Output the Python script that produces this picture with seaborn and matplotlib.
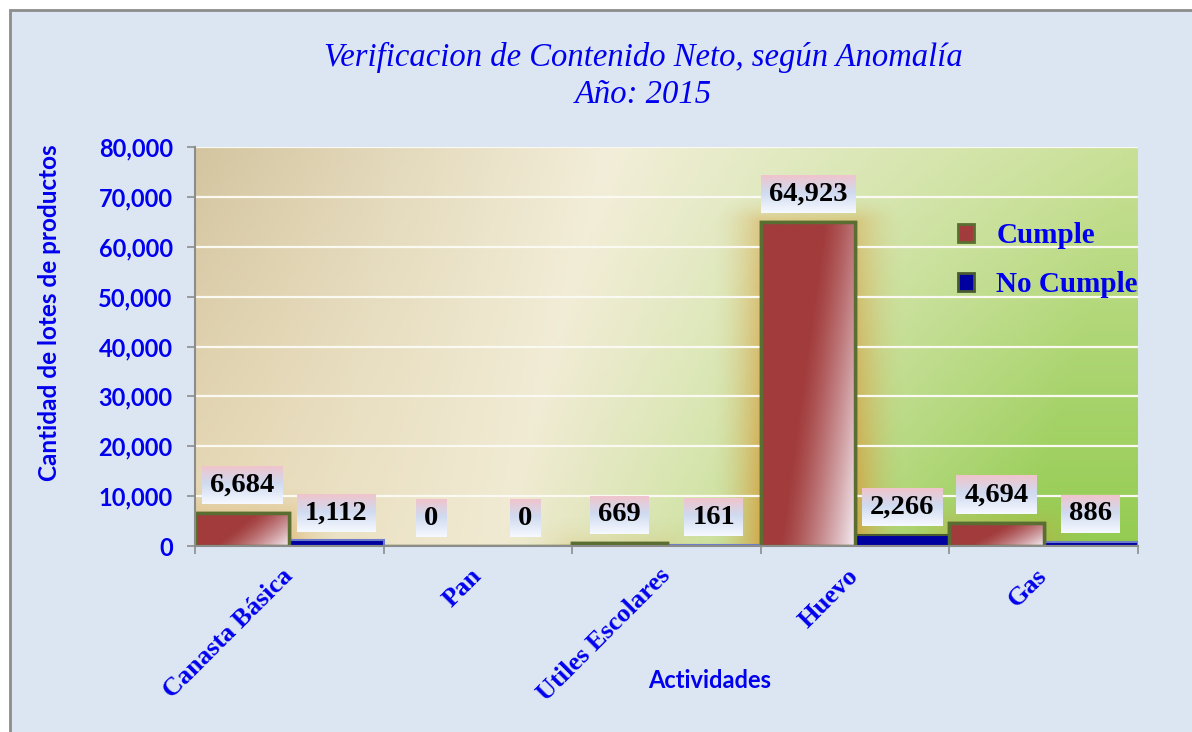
import numpy as np
import pandas as pd
import matplotlib
matplotlib.use("Agg")
import matplotlib.pyplot as plt
import seaborn as sns
from matplotlib.patches import Rectangle
from matplotlib.colors import to_rgb
from matplotlib.ticker import FuncFormatter, MultipleLocator, FixedLocator

actividades = ["Canasta Básica", "Pan", "Utiles Escolares", "Huevo", "Gas"]
cumple = [6684, 0, 669, 64923, 4694]
no_cumple = [1112, 0, 161, 2266, 886]
series = ["Cumple", "No Cumple"]

titulo = "Verificacion de Contenido Neto, según Anomalía"
subtitulo = "Año: 2015"

df = pd.DataFrame({
    "Actividades": actividades * 2,
    "Valor": cumple + no_cumple,
    "Serie": [series[0]] * len(cumple) + [series[1]] * len(no_cumple),
})

sns.set_theme(style="white")
plt.rcParams["font.family"] = ["Liberation Serif", "DejaVu Serif"]

azul = "#0000ee"
rojo = "#a23c3c"
azul_bar = "#0000a0"
oliva = "#5a6e32"

fig = plt.figure(figsize=(11.92, 7.32), dpi=100)
fig.patch.set_facecolor("white")
fig.patches.append(Rectangle((10 / 1192, -0.05), 1.1, 1.05 - 10 / 732, transform=fig.transFigure,
                             facecolor="#dce6f2", edgecolor="#8c8c8c", lw=2, zorder=-5))

ax = fig.add_axes([195 / 1192, 1 - 546 / 732, 943 / 1192, 399 / 732])
ax.set_zorder(1)
ax.set_xlim(-0.5, len(actividades) - 0.5)
ax.set_ylim(0, 80000)

# fondo degradado del area de trazado
nx, ny = 300, 100
u = np.linspace(0, 1, nx)[None, :]
v = np.linspace(0, 1, ny)[:, None]
t = np.clip(u + 0.12 * v, 0, 1)
stops = [0.0, 0.44, 0.62, 1.0]
top_cols = [to_rgb(c) for c in ["#d4c5a0", "#f3eed9", "#e2eac2", "#c8e096"]]
bot_cols = [to_rgb(c) for c in ["#e4d4ae", "#f0ead2", "#d4e4aa", "#94cc52"]]
bg = np.zeros((ny, nx, 3))
for k in range(3):
    top = np.interp(t, stops, [c[k] for c in top_cols])
    bot = np.interp(t, stops, [c[k] for c in bot_cols])
    bg[:, :, k] = top * (1 - v) + bot * v
ax.imshow(bg, extent=(-0.5, len(actividades) - 0.5, 0, 80000), aspect="auto", zorder=0, origin="upper")
ax.set_ylim(0, 80000)

sns.barplot(data=df, x="Actividades", y="Valor", hue="Serie", palette=[rojo, azul_bar],
            width=1.0, saturation=1, legend=False, ax=ax, edgecolor=oliva, linewidth=2.5, zorder=3)
ax.set_xlim(-0.5, len(actividades) - 0.5)
ax.set_ylim(0, 80000)

fig.canvas.draw()
inv = ax.transData.inverted()
bars = [p for p in ax.patches if isinstance(p, Rectangle) and p.get_width() < 1]

# resplandor naranja y degradado en las barras
for i, p in enumerate(bars):
    x0, w, h = p.get_x(), p.get_width(), p.get_height()
    if h <= 0:
        continue
    es_cumple = i < len(cumple)
    if not es_cumple:
        p.set_edgecolor("#6c7cc8" if h < 2000 else "#4a5a30")
        p.set_linewidth(1.5)
        continue
    bb = p.get_window_extent()
    m = 50
    gx = np.linspace(bb.x0 - m, bb.x1 + m, 160)
    gy = np.linspace(bb.y0, bb.y1 + m, 200)
    X, Y = np.meshgrid(gx, gy)
    dx = np.maximum(np.maximum(bb.x0 - X, X - bb.x1), 0)
    dy = np.maximum(Y - bb.y1, 0)
    d = np.sqrt(dx ** 2 + (1.8 * dy) ** 2)
    fade = 0.55 + 0.45 * np.clip((bb.y1 - Y) / max(bb.height, 1), 0, 1)
    alpha = np.clip(1 - d / m, 0, 1) ** 1.7 * 0.8 * fade * min(1, h / 30000 + 0.3)
    glow = np.zeros(X.shape + (4,))
    glow[..., :3] = to_rgb("#d69a38")
    glow[..., 3] = alpha
    (ex0, ey0) = inv.transform((bb.x0 - m, bb.y0))
    (ex1, ey1) = inv.transform((bb.x1 + m, bb.y1 + m))
    ax.imshow(glow, extent=(ex0, ex1, ey0, ey1), origin="lower", aspect="auto", zorder=1.5)

    uu = np.linspace(0, 1, 100)[None, :]
    vv = np.linspace(0, 1, 100)[:, None]
    s = np.clip((uu * 0.75 + vv * 0.35 - 0.5) / 0.6, 0, 1) ** 1.3
    grad = np.zeros((100, 100, 3))
    base = np.array(to_rgb(rojo))
    light = np.array(to_rgb("#f4eef4"))
    grad[:] = base * (1 - s[..., None]) + light * s[..., None]
    im = ax.imshow(grad, extent=(x0, x0 + w, 0, h), origin="upper", aspect="auto", zorder=3.1)
    im.set_clip_path(p)
    ax.add_patch(Rectangle((x0, 0), w, h, fill=False, edgecolor=oliva, lw=2.5, zorder=3.2))

ax.set_xlim(-0.5, len(actividades) - 0.5)
ax.set_ylim(0, 80000)

# etiquetas de datos con caja degradada
etiquetas = []
for i, p in enumerate(bars):
    val = (cumple + no_cumple)[i]
    cx = p.get_x() + p.get_width() / 2
    txt = ax.annotate(f"{val:,}", xy=(cx, p.get_height()), xytext=(0, 20), textcoords="offset points",
                      ha="center", va="center", fontsize=20.5, fontweight="bold", color="black", zorder=5)
    etiquetas.append(txt)

fig.canvas.draw()
caja = np.zeros((60, 1, 3))
cv = np.linspace(0, 1, 60)
for k in range(3):
    caja[:, 0, k] = np.interp(cv, [0, 0.45, 1], [to_rgb("#f0c4cc")[k], to_rgb("#cfdaf0")[k], to_rgb("#f6f9ff")[k]])
for txt in etiquetas:
    bb = txt.get_window_extent()
    cxp = (bb.x0 + bb.x1) / 2
    cyp = (bb.y0 + bb.y1) / 2
    hw = bb.width / 2 + 8
    hh = 19
    (bx0, by0) = inv.transform((cxp - hw, cyp - hh))
    (bx1, by1) = inv.transform((cxp + hw, cyp + hh))
    ax.imshow(caja, extent=(bx0, bx1, by0, by1), origin="upper", aspect="auto", zorder=4)

ax.set_xlim(-0.5, len(actividades) - 0.5)
ax.set_ylim(0, 80000)

# ejes, rejilla y marcas
ax.yaxis.set_major_locator(MultipleLocator(10000))
ax.yaxis.set_major_formatter(FuncFormatter(lambda y, _: f"{int(y):,}"))
ax.grid(axis="y", color="#fbfaf2", lw=1.6, zorder=1)
ax.grid(axis="x", visible=False)
ax.set_axisbelow(False)
for line in ax.get_ygridlines():
    line.set_zorder(1)
for side in ["top", "right"]:
    ax.spines[side].set_visible(False)
for side in ["left", "bottom"]:
    ax.spines[side].set_color("#8c8c8c")
    ax.spines[side].set_linewidth(1.5)
    ax.spines[side].set_zorder(6)

ax.tick_params(axis="y", which="major", left=True, length=6, width=1.2, color="#8c8c8c", pad=10,
               labelcolor=azul, labelsize=17)
for lab in ax.get_yticklabels():
    lab.set_fontfamily("Lato")
    lab.set_fontweight("bold")

ax.xaxis.set_minor_locator(FixedLocator(np.arange(-0.5, len(actividades), 1.0)))
ax.tick_params(axis="x", which="minor", bottom=True, length=6, width=1.2, color="#8c8c8c")
ax.tick_params(axis="x", which="major", bottom=False, length=0, pad=19, labelcolor=azul)
ax.set_xticks(range(len(actividades)))
ax.set_xticklabels(actividades, rotation=45, ha="right", va="center", rotation_mode="anchor",
                   fontsize=19, fontweight="bold", color=azul)
ax.set_xlabel("")
ax.set_ylabel("")

fig.text(710 / 1192, 1 - 680 / 732, "Actividades", ha="center", va="center", fontsize=17,
         fontweight="bold", color=azul, family="Lato")
fig.text(50 / 1192, 1 - 313 / 732, "Cantidad de lotes de productos", ha="center", va="center",
         rotation=90, fontsize=17.5, fontweight="bold", color=azul, family="Lato")

fig.text(643 / 1192, 1 - 57 / 732, titulo, ha="center", va="center", fontsize=23.5, style="italic", color=azul)
fig.text(643 / 1192, 1 - 95 / 732, subtitulo, ha="center", va="center", fontsize=23.5, style="italic", color=azul)

handles = [Rectangle((0, 0), 1, 1, facecolor=rojo, edgecolor=oliva, lw=2),
           Rectangle((0, 0), 1, 1, facecolor=azul_bar, edgecolor="#4a5a30", lw=2)]
fig.legend(handles, series, loc="upper left", bbox_to_anchor=(932 / 1192, 1 - 196 / 732), frameon=False,
           handlelength=0.55, handleheight=0.55, handletextpad=0.75, labelspacing=0.76,
           prop={"size": 21, "weight": "bold", "family": "Liberation Serif"}, labelcolor=azul)

fig.savefig("out.png", dpi=100)
